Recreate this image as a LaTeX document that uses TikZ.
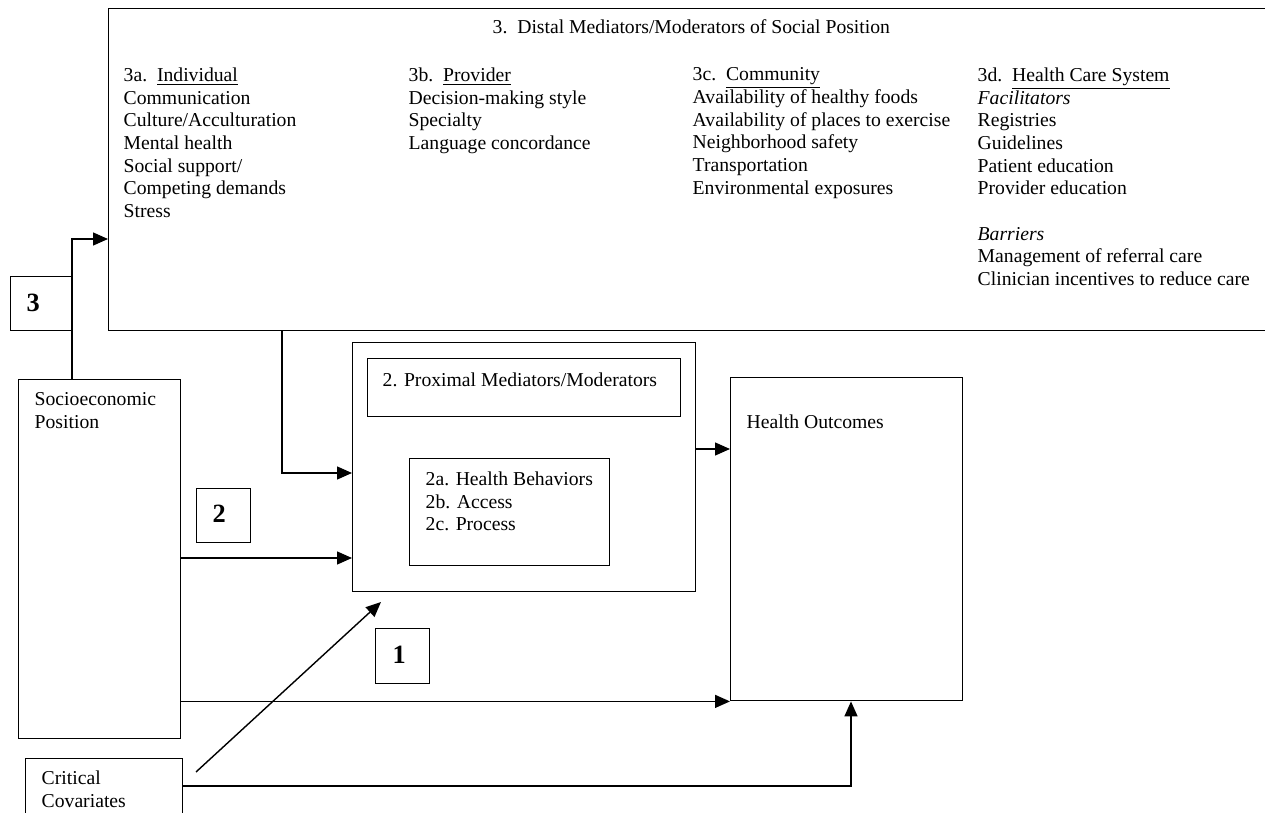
\documentclass[tikz,border=0pt]{standalone}
\usepackage{fontspec}
\setmainfont{Liberation Serif}
\usetikzlibrary{arrows.meta}
\newlength\unitpx
\setlength\unitpx{0.02cm}

\begin{document}
\begin{tikzpicture}[x=0.02cm, y=-0.02cm, line width=0.8pt,
    every node/.style={font=\fontsize{11.2}{12.9}\selectfont},
    box/.style={draw, anchor=north west, inner sep=0pt},
    txt/.style={anchor=north west, inner sep=0pt, align=left},
    num/.style={anchor=west, inner sep=0pt, font=\fontsize{15}{18}\selectfont\bfseries},
    arr/.style={-{Triangle[length=0.3cm, width=0.26cm]}}]
	\useasboundingbox (0,0) rectangle (1265,813);
	\clip (0,0) rectangle (1265,813);
	% Boxes
	\node[box, minimum width=1200\unitpx, minimum height=322\unitpx] (distal) at (108,8) {};
	\node[box, minimum width=162\unitpx, minimum height=359\unitpx] (sep) at (18,379) {};
	\node[box, minimum width=157\unitpx, minimum height=80\unitpx] (cov) at (25,758) {};
	\node[box, minimum width=343\unitpx, minimum height=249\unitpx] (prox) at (352,342) {};
	\node[box, minimum width=313\unitpx, minimum height=58\unitpx] (proxtitle) at (367,358) {};
	\node[box, minimum width=200\unitpx, minimum height=107\unitpx] (proxlist) at (409,458) {};
	\node[box, minimum width=232\unitpx, minimum height=323\unitpx] (outcome) at (730,377) {};
	\node[box, minimum width=62\unitpx, minimum height=54\unitpx] (pathc) at (10,276) {};
	\node[box, minimum width=54\unitpx, minimum height=54\unitpx] (pathb) at (196,488) {};
	\node[box, minimum width=54\unitpx, minimum height=55\unitpx] (patha) at (375,628) {};
	% Texts
	\node[anchor=west, inner sep=0pt] (distaltitle) at (492,27) {3.\ \ Distal Mediators/Moderators of Social Position};
	\node[txt] (indiv) at (123,67) {3a.\ \ \underline{Individual}\\Communication\\Culture/Acculturation\\Mental health\\Social support/\\Competing demands\\Stress};
	\node[txt] (provider) at (408,67) {3b.\ \ \underline{Provider}\\Decision-making style\\Specialty\\Language concordance};
	\node[txt] (community) at (692,67) {3c.\ \ \underline{Community}\\Availability of healthy foods\\Availability of places to exercise\\Neighborhood safety\\Transportation\\Environmental exposures};
	\node[txt] (system) at (977,67) {3d.\ \ \underline{Health Care System}\\\textit{Facilitators}\\Registries\\Guidelines\\Patient education\\Provider education\\[12.9pt]\textit{Barriers}\\Management of referral care\\Clinician incentives to reduce care};
	\node[txt] (septext) at (34,392) {Socioeconomic\\Position};
	\node[txt] (covtext) at (41,770) {Critical\\Covariates};
	\node[txt] (proxtitletext) at (382,372) {2. Proximal Mediators/Moderators};
	\node[txt] (proxlisttext) at (425,471) {2a. Health Behaviors\\2b. Access\\2c. Process};
	\node[txt] (outcometext) at (746,414) {Health Outcomes};
	\node[num] at (26,303) {3};
	\node[num] at (212,514) {2};
	\node[num] at (392,655) {1};
	% Connectors
	\draw[arr] (sep.north west -| 72,0) |- (distal.west |- 0,239);
	\draw[arr] (distal.south west -| 282,0) |- (prox.west |- 0,473);
	\draw[arr] (sep.east |- 0,558) -- (prox.west |- 0,558);
	\draw[arr] (prox.east |- 0,449) -- (outcome.west |- 0,449);
	\draw[arr] (sep.east |- outcome.south west) -- (outcome.south west);
	\draw[arr] (cov.east |- 0,786) -| (outcome.south -| 851,0);
	\coordinate (covtip) at (196,772);
	\coordinate (proxtip) at (381,602);
	\draw[arr] (covtip) -- (proxtip);
\end{tikzpicture}
\end{document}
